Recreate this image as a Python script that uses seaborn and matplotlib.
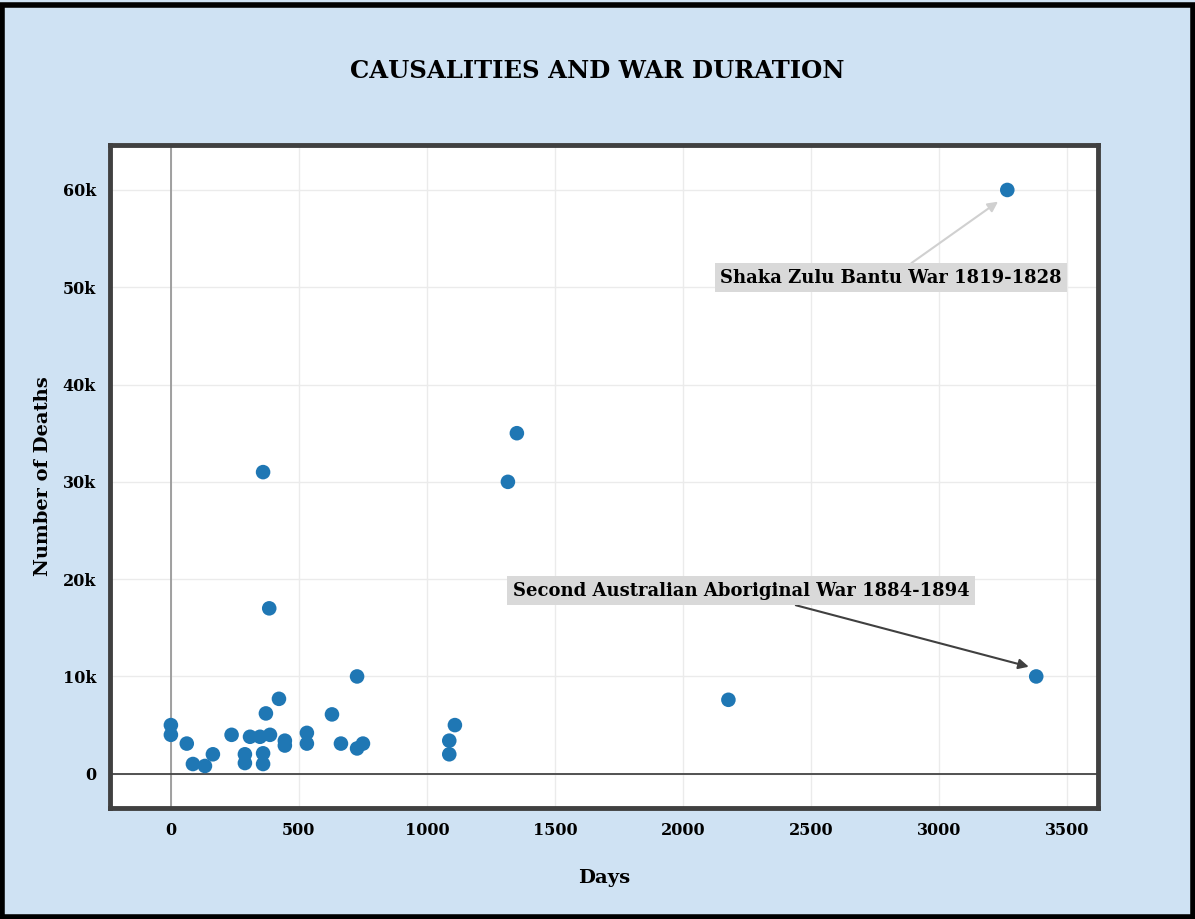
import pandas as pd
import numpy as np
import seaborn as sns
import matplotlib.pyplot as plt
from matplotlib.ticker import FuncFormatter

# data
days = [0, 0, 62, 86, 133, 164, 237, 289, 289, 309, 348, 360, 360, 371, 387,
        422, 445, 445, 531, 531, 629, 664, 727, 727, 750, 360, 384,
        1087, 1087, 1109, 1316, 1351, 2177, 3266, 3379]
deaths = [5000, 4000, 3100, 1000, 800, 2000, 4000, 2000, 1100, 3800, 3800, 2100, 1000,
          6200, 4000, 7700, 3400, 2900, 4200, 3100, 6100, 3100, 10000, 2600, 3100,
          31000, 17000, 3400, 2000, 5000, 30000, 35000, 7600, 60000, 10000]
x_ticks = [0, 500, 1000, 1500, 2000, 2500, 3000, 3500]
y_ticks = [0, 10000, 20000, 30000, 40000, 50000, 60000]

df = pd.DataFrame({'Days': days, 'Deaths': deaths})

sns.set_style("whitegrid")
plt.rcParams['font.family'] = ['DejaVu Serif']
plt.rcParams['font.weight'] = 'bold'
plt.rcParams['text.color'] = 'black'
plt.rcParams['axes.labelcolor'] = 'black'
plt.rcParams['xtick.color'] = 'black'
plt.rcParams['ytick.color'] = 'black'

bg = '#cfe2f3'
fig = plt.figure(figsize=(11.95, 9.19), dpi=100, facecolor=bg)
ax = fig.add_axes([0.092, 0.121, 0.827, 0.721])

sns.scatterplot(data=df, x='Days', y='Deaths', ax=ax, s=110, color='#1f77b4',
                edgecolor='none', zorder=3)

ax.set_xlim(-238, 3621)
ax.set_ylim(-3500, 64600)
ax.set_xticks(x_ticks)
ax.set_yticks(y_ticks)
ax.yaxis.set_major_formatter(FuncFormatter(lambda v, p: '0' if v == 0 else f'{int(v/1000)}k'))
ax.tick_params(axis='both', length=0, labelsize=11.5, pad=10)
for lab in ax.get_xticklabels() + ax.get_yticklabels():
    lab.set_fontweight('bold')

ax.grid(True, color='#ebebeb', linewidth=1)
ax.axvline(0, color='#999999', linewidth=1.3, zorder=1)
ax.axhline(0, color='#444444', linewidth=1.3, zorder=1)
for sp in ax.spines.values():
    sp.set_color('#404040')
    sp.set_linewidth(3.5)

ax.set_xlabel('Days', fontsize=14, fontweight='bold', labelpad=22)
ax.set_ylabel('Number of Deaths', fontsize=14, fontweight='bold', labelpad=8)
fig.text(0.5, 0.923, 'CAUSALITIES AND WAR DURATION', ha='center', va='center',
         fontsize=17.5, fontweight='bold')

box = dict(boxstyle='square,pad=0.3', facecolor='#d9d9d9', edgecolor='none')
ax.annotate('Shaka Zulu Bantu War 1819-1828', xy=(3230, 58800), xytext=(2812, 51000),
            ha='center', va='center', fontsize=13, fontweight='bold', bbox=box,
            arrowprops=dict(arrowstyle='-|>', color='#d0d0d0', lw=1.5,
                            shrinkA=0, shrinkB=0, mutation_scale=15), zorder=4)
ax.annotate('Second Australian Aboriginal War 1884-1894', xy=(3350, 11000), xytext=(2227, 18800),
            ha='center', va='center', fontsize=13, fontweight='bold', bbox=box,
            arrowprops=dict(arrowstyle='-|>', color='#404040', lw=1.5,
                            shrinkA=0, shrinkB=0, mutation_scale=15), zorder=4)

fig.patches.append(plt.Rectangle((0.002, 0.002), 0.996, 0.993, transform=fig.transFigure,
                                 fill=False, edgecolor='black', linewidth=4))

plt.savefig('out.png', dpi=100, facecolor=bg)
